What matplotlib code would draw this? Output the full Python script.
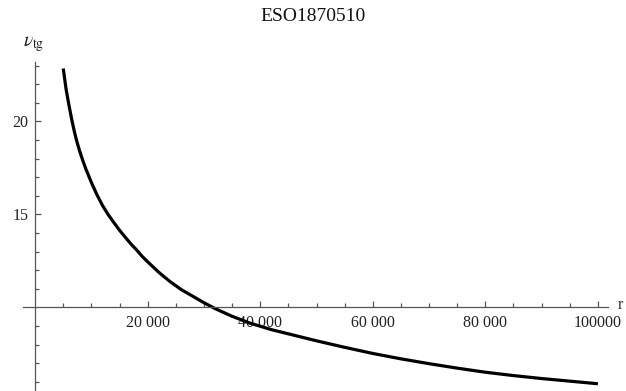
import numpy as np
import matplotlib
matplotlib.use("Agg")
import matplotlib.pyplot as plt


LINE_COLOR = "#000000"
AXIS_COLOR = "#555555"
TEXT_COLOR = "#222222"
FONT = "Liberation Serif"

TITLE = "ESO1870510"

# radius and tangential velocity
r_values = [5000, 5500, 6000, 6500, 7000, 7500, 8000, 8500, 9000, 10000, 11000,
            12000, 13000, 14000, 15000, 16000, 17000, 18000, 19000, 20000,
            22000, 24000, 26000, 28000, 30000, 32000, 35000, 38000, 42000,
            46000, 50000, 55000, 60000, 65000, 70000, 75000, 80000, 85000,
            90000, 95000, 100000]
v_values = [22.85, 21.75, 20.9, 20.12, 19.42, 18.83, 18.33, 17.88, 17.46, 16.72,
            16.05, 15.47, 14.98, 14.56, 14.15, 13.78, 13.42, 13.1, 12.75, 12.45,
            11.88, 11.38, 10.95, 10.6, 10.25, 9.93, 9.52, 9.17, 8.8,
            8.5, 8.2, 7.85, 7.52, 7.23, 6.97, 6.73, 6.51, 6.33,
            6.17, 6.03, 5.89]

x_ticks = [20000, 40000, 60000, 80000, 100000]
x_tick_labels = ["20 000", "40 000", "60 000", "80 000", "100000"]
y_ticks = [15, 20]
y_tick_labels = ["15", "20"]


def plot_curve() -> None:
    plt.rcParams["mathtext.fontset"] = "stix"
    fig = plt.figure(figsize=(6.26, 3.91), dpi=100)
    ax = fig.add_axes([0.0363, 0.0, 0.935, 0.8414])

    ax.plot(r_values, v_values, color=LINE_COLOR, linewidth=2.3,
            solid_capstyle="butt", solid_joinstyle="round")

    ax.set_xlim(-2200, 101800)
    ax.set_ylim(5.5, 23.2)

    # Mathematica-style axes crossing at (0, 10)
    ax.spines["left"].set_position(("data", 0))
    ax.spines["bottom"].set_position(("data", 10))
    ax.spines["top"].set_visible(False)
    ax.spines["right"].set_visible(False)
    for side in ("left", "bottom"):
        ax.spines[side].set_color(AXIS_COLOR)
        ax.spines[side].set_linewidth(0.9)

    ax.set_xticks(x_ticks)
    ax.set_xticklabels(x_tick_labels)
    ax.set_xticks([m for m in range(5000, 100001, 5000) if m not in x_ticks],
                  minor=True)
    ax.set_yticks(y_ticks)
    ax.set_yticklabels(y_tick_labels)
    ax.set_yticks([m for m in range(6, 24) if m not in (10, 15, 20)],
                  minor=True)

    ax.tick_params(which="both", direction="in", color=AXIS_COLOR, width=0.9,
                   labelcolor=TEXT_COLOR, labelsize=11.5)
    ax.tick_params(which="major", length=4.5)
    ax.tick_params(which="minor", length=3)
    ax.tick_params(axis="x", pad=5.5)
    ax.tick_params(axis="y", pad=5)
    for label in ax.get_xticklabels() + ax.get_yticklabels():
        label.set_fontfamily(FONT)

    ax.text(103600, 10.15, "r", fontsize=11.5, family=FONT, color=TEXT_COLOR,
            ha="left", va="center")
    fig.text(0.054, 0.888, r"$\nu_{\rm tg}$", fontsize=14, color=TEXT_COLOR,
             ha="center", va="center")
    fig.text(0.5, 0.957, TITLE, fontsize=14, family=FONT, color="#111111",
             ha="center", va="center")

    fig.savefig("out.png", dpi=100)


def main() -> None:
    plot_curve()


if __name__ == "__main__":
    main()
